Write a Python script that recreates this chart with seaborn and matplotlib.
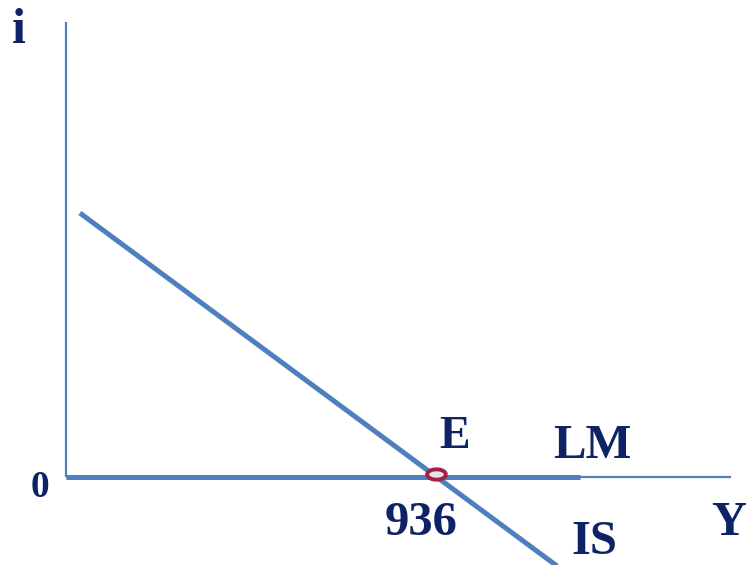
import numpy as np
import pandas as pd
import matplotlib
matplotlib.use("Agg")
import matplotlib.pyplot as plt
import seaborn as sns

# IS-LM diagram: horizontal LM at i = 0, downward sloping IS, equilibrium E at Y = 936
equilibrium_y = 936
equilibrium_i = 0.0

is_income = [35, 1265]
is_rate = [10.56, -3.83]

lm_income = [0, 1300]
lm_rate = [0.0, 0.0]

x_axis_income = [0, 1683]
y_axis_rate = [0, 18.2]

line_blue = "#4f7fbf"
text_navy = "#0d2366"
ring_red = "#a3203f"

sns.set_theme(style="white")
plt.rcParams["font.family"] = ["Liberation Serif", "DejaVu Serif"]

fig = plt.figure(figsize=(7.46, 5.65), dpi=100)
ax = fig.add_axes([0, 0, 1, 1])
ax.set_xlim(-167, 1720)
ax.set_ylim(-3.52, 19.08)
ax.axis("off")

line_kw = dict(ax=ax, color=line_blue, sort=False, estimator=None, errorbar=None,
               solid_capstyle="butt")

# coordinate axes
sns.lineplot(x=x_axis_income, y=[0, 0], lw=1.6, **line_kw)
sns.lineplot(x=[0, 0], y=y_axis_rate, lw=1.6, **line_kw)

# LM and IS curves
lm_df = pd.DataFrame({"Y": lm_income, "i": lm_rate})
sns.lineplot(data=lm_df, x="Y", y="i", lw=3.6, **line_kw)
is_df = pd.DataFrame({"Y": is_income, "i": is_rate})
sns.lineplot(data=is_df, x="Y", y="i", lw=3.6, **line_kw)

# equilibrium marker (flattened ring)
t = np.linspace(0, 2 * np.pi, 60)
ellipse_marker = np.column_stack([np.cos(t), 0.55 * np.sin(t)])
ax.plot([equilibrium_y], [equilibrium_i + 0.12], marker=ellipse_marker, ms=13.5,
        mfc="#dfe6f2", mec=ring_red, mew=2.8, ls="none", zorder=5)

def px(x, y):
    """Figure pixel position to data coordinates."""
    return (x - 66) * 936 / 370, (477 - y) / 25

label_kw = dict(color=text_navy, fontweight="bold", ha="center", va="baseline")
ax.text(*px(19, 43), "i", fontsize=36, **label_kw)
ax.text(*px(40, 497), "0", fontsize=27, **label_kw)
ax.text(*px(421, 535), "936", fontsize=35, **label_kw)
ax.text(*px(729, 535), "Y", fontsize=35, **label_kw)
ax.text(*px(455, 448), "E", fontsize=33, **label_kw)
ax.text(*px(592, 458), "LM", fontsize=35, **label_kw)
ax.text(*px(594, 554), "IS", fontsize=35, **label_kw)

fig.savefig("out.png", dpi=100)
